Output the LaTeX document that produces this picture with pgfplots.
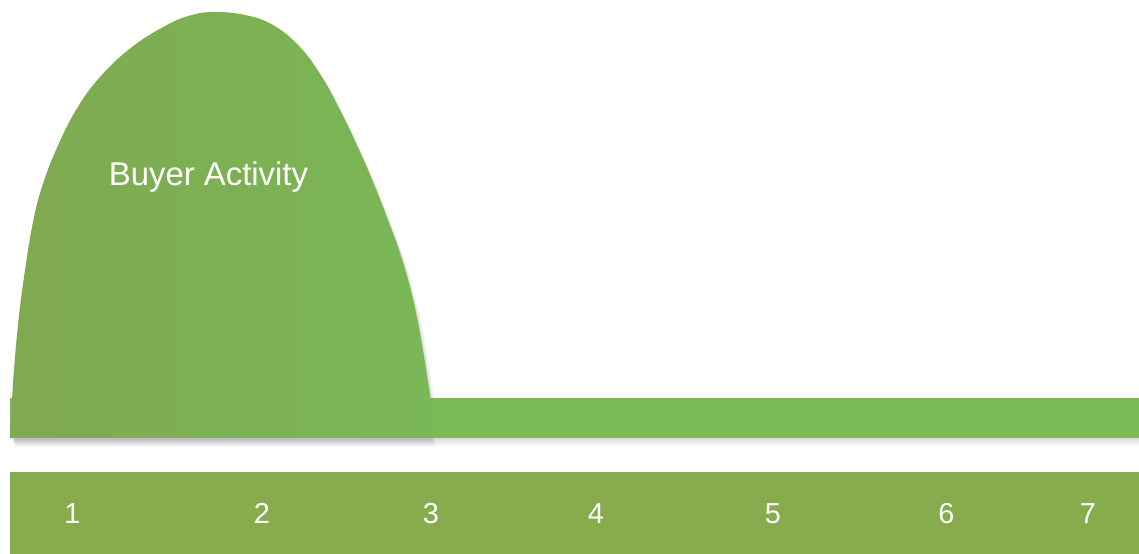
\documentclass[border=0pt]{standalone}
\usepackage{pgfplots}
\usepackage{pgfplotstable}
\pgfplotsset{compat=1.18}
\usepackage{fontspec}
\setmainfont{Liberation Sans}
\definecolor{humpL}{HTML}{80A951}
\definecolor{humpR}{HTML}{7AB756}
\definecolor{band}{HTML}{79B956}
\definecolor{bar}{HTML}{87AC4E}
\pgfplotstableread{
x y
10 0
12 38
14 68
18.5 118
25 168
33 216
42 251
56 288
76 328
100 361
132 391
167 413
192 423
215 426
245 423
273 413
300 391
322 361
340 328
356 295
371 261
388 218
400 185
410 151
417.5 118
423.5 85
427 63
430.5 40
}\hump
\pgfplotstableread{
x y
10 40
1139 40
}\flat
\pgfplotsset{shad/.style={draw=none, fill=black, fill opacity=0.035}}
\begin{document}
\begin{tikzpicture}
\begin{axis}[
  width=1139bp, height=554bp, scale only axis,
  xmin=0, xmax=1139, ymin=-116, ymax=438,
  hide axis, clip=true,
]
% shadows
\addplot[shad, smooth, tension=0.7, xshift=1.2bp, yshift=-2bp] table {\hump} \closedcycle;
\addplot[shad, xshift=1.2bp, yshift=-2bp] table {\flat} \closedcycle;
\addplot[shad, smooth, tension=0.7, xshift=2.4bp, yshift=-4bp] table {\hump} \closedcycle;
\addplot[shad, xshift=2.4bp, yshift=-4bp] table {\flat} \closedcycle;
\addplot[shad, smooth, tension=0.7, xshift=3.6bp, yshift=-6bp] table {\hump} \closedcycle;
\addplot[shad, xshift=3.6bp, yshift=-6bp] table {\flat} \closedcycle;
\addplot[shad, smooth, tension=0.7, xshift=4.8bp, yshift=-8bp] table {\hump} \closedcycle;
\addplot[shad, xshift=4.8bp, yshift=-8bp] table {\flat} \closedcycle;
% band
\addplot[draw=none, fill=band] table {\flat} \closedcycle;
% hump
\addplot[draw=none, left color=humpL, right color=humpR, smooth, tension=0.7] table {\hump} \closedcycle;
% bottom bar
\addplot[draw=none, fill=bar] coordinates {(10,-34) (1139,-34) (1139,-117) (10,-117)} -- cycle;
\node[anchor=base, text=white, font=\fontsize{33}{38}\selectfont] at (axis cs:208.5,252) {Buyer Activity};
\node[anchor=base, text=white, font=\fontsize{29}{34}\selectfont] at (axis cs:72.5,-85.3) {1};
\node[anchor=base, text=white, font=\fontsize{29}{34}\selectfont] at (axis cs:262,-85.3) {2};
\node[anchor=base, text=white, font=\fontsize{29}{34}\selectfont] at (axis cs:431,-85.3) {3};
\node[anchor=base, text=white, font=\fontsize{29}{34}\selectfont] at (axis cs:596,-85.3) {4};
\node[anchor=base, text=white, font=\fontsize{29}{34}\selectfont] at (axis cs:773,-85.3) {5};
\node[anchor=base, text=white, font=\fontsize{29}{34}\selectfont] at (axis cs:946.5,-85.3) {6};
\node[anchor=base, text=white, font=\fontsize{29}{34}\selectfont] at (axis cs:1088,-85.3) {7};
\end{axis}
\pgfresetboundingbox
\useasboundingbox (current axis.south west) rectangle (current axis.north east);
\end{tikzpicture}
\end{document}
